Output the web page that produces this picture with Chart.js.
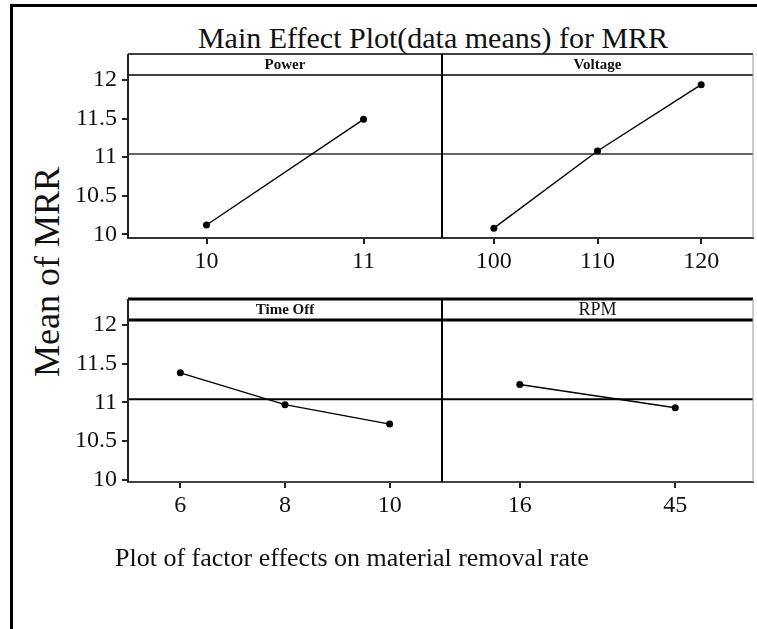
<!DOCTYPE html>
<html>
<head>
<meta charset="utf-8">
<title>Main Effect Plot for MRR</title>
<script src="https://cdn.jsdelivr.net/npm/chart.js@4/dist/chart.umd.min.js"></script>
<style>
  html, body { margin: 0; padding: 0; background: #fff; }
  #page {
    position: relative; width: 757px; height: 629px; overflow: hidden;
    font-family: 'Liberation Serif', 'Times New Roman', serif; color: #111;
  }
  #page canvas { position: absolute; left: 0; top: 0; }
  .frame {
    position: absolute; left: 10px; top: 4px; width: 760px; height: 640px;
    border-left: 3px solid #000; border-top: 3px solid #000;
  }
  .title {
    position: absolute; left: 133px; width: 600px; top: 23px;
    font-size: 30px; line-height: 30px; text-align: center; white-space: nowrap;
  }
  .ytitle {
    position: absolute; left: -103px; top: 252px; width: 300px; height: 40px;
    font-size: 36px; line-height: 40px; text-align: center; white-space: nowrap;
    transform: rotate(-90deg);
  }
  .caption {
    position: absolute; left: 115px; top: 545px;
    font-size: 26px; line-height: 26px; white-space: nowrap;
  }
</style>
</head>
<body>
<div id="page">
  <div class="frame"></div>
  <div class="title">Main Effect Plot(data means) for MRR</div>
  <div class="ytitle">Mean of MRR</div>
  <canvas id="power" width="757" height="629"></canvas>
  <canvas id="voltage" width="757" height="629"></canvas>
  <canvas id="timeOff" width="757" height="629"></canvas>
  <canvas id="rpm" width="757" height="629"></canvas>
  <div class="caption">Plot of factor effects on material removal rate</div>
</div>
<script>
// factor levels and mean MRR at each level
const powerLevels = ['10', '11'];
const powerMeans = [10.12, 11.49];

const voltageLevels = ['100', '110', '120'];
const voltageMeans = [10.08, 11.08, 11.94];

const timeOffLevels = ['6', '8', '10'];
const timeOffMeans = [11.38, 10.97, 10.72];

const rpmLevels = ['16', '45'];
const rpmMeans = [11.23, 10.93];

// overall mean drawn as the horizontal reference line
const grandMean = 11.04;
const yTicks = [10, 10.5, 11, 11.5, 12];

Chart.defaults.font.family = "'Liberation Serif', 'Times New Roman', serif";
Chart.defaults.color = '#111';

// panel box, factor name strip and reference line
const panelFrame = {
  id: 'panelFrame',
  beforeDatasetsDraw(chart, args, o) {
    const { ctx, chartArea: a, scales } = chart;
    const y = scales.y.getPixelForValue(grandMean);
    ctx.save();
    ctx.strokeStyle = o.refColor;
    ctx.lineWidth = o.refWidth;
    ctx.beginPath();
    ctx.moveTo(a.left, y);
    ctx.lineTo(a.right, y);
    ctx.stroke();
    ctx.restore();
  },
  afterDraw(chart, args, o) {
    const { ctx, chartArea: a } = chart;
    const top = a.top - o.stripHeight;
    const line = (x1, y1, x2, y2, color, width) => {
      ctx.strokeStyle = color;
      ctx.lineWidth = width;
      ctx.beginPath();
      ctx.moveTo(x1, y1);
      ctx.lineTo(x2, y2);
      ctx.stroke();
    };
    ctx.save();
    line(a.left, top, a.right, top, '#000', o.stripLine);
    line(a.left, a.top, a.right, a.top, '#000', o.stripLine);
    line(a.left, top, a.left, a.bottom, o.leftEdge.color, o.leftEdge.width);
    line(a.right, top, a.right, a.bottom, o.rightEdge.color, o.rightEdge.width);
    ctx.font = o.stripFont;
    ctx.fillStyle = '#111';
    ctx.textAlign = 'center';
    ctx.textBaseline = 'middle';
    ctx.fillText(o.label, (a.left + a.right) / 2, top + o.stripHeight / 2 + 1);
    ctx.restore();
  }
};

function mainEffectPanel(id, label, levels, means, look) {
  const yScale = {
    display: look.showY,
    min: look.yMin,
    max: look.yMax,
    afterBuildTicks: s => { s.ticks = yTicks.map(v => ({ value: v })); },
    grid: { drawOnChartArea: false, tickLength: 6, tickColor: '#222', lineWidth: 2 },
    border: { color: look.axisColor, width: 2 },
    ticks: { font: { size: 24 }, padding: 5, color: '#111', callback: v => String(v) }
  };
  if (look.showY) yScale.afterFit = s => { s.width = 60; };

  return new Chart(document.getElementById(id), {
    type: 'line',
    data: {
      labels: levels,
      datasets: [{
        data: means,
        borderColor: '#000',
        borderWidth: 1.4,
        pointRadius: 3.5,
        pointBackgroundColor: '#000',
        pointBorderWidth: 0,
        tension: 0
      }]
    },
    options: {
      responsive: false,
      animation: false,
      events: [],
      layout: { padding: look.padding },
      plugins: {
        legend: { display: false },
        tooltip: { enabled: false },
        panelFrame: {
          label: label,
          stripHeight: 21,
          stripLine: look.stripLine,
          stripFont: look.stripFont,
          refColor: look.refColor,
          refWidth: look.refWidth,
          leftEdge: look.leftEdge,
          rightEdge: look.rightEdge
        }
      },
      scales: {
        x: {
          type: 'category',
          offset: true,
          grid: { offset: false, drawOnChartArea: false, tickLength: 6, tickColor: '#222', lineWidth: 2 },
          border: { color: look.axisColor, width: 2 },
          ticks: { font: { size: 24 }, padding: 3, color: '#111', maxRotation: 0, autoSkip: false },
          afterFit: s => { s.height = 40; }
        },
        y: yScale
      }
    },
    plugins: [panelFrame]
  });
}

const upper = {
  yMin: 9.952, yMax: 12.065, stripLine: 1.5, refColor: '#333', refWidth: 1.5,
  axisColor: '#333', stripFont: 'bold 15px "Liberation Serif", serif'
};
const lower = {
  yMin: 9.974, yMax: 12.061, stripLine: 3, refColor: '#000', refWidth: 2.2,
  axisColor: '#444', stripFont: 'bold 15px "Liberation Serif", serif'
};

mainEffectPanel('power', 'Power', powerLevels, powerMeans, Object.assign({}, upper, {
  showY: true,
  padding: { left: 68, top: 75, right: 315, bottom: 351 },
  leftEdge: { color: '#222', width: 2 },
  rightEdge: { color: '#000', width: 2 }
}));

mainEffectPanel('voltage', 'Voltage', voltageLevels, voltageMeans, Object.assign({}, upper, {
  showY: false,
  padding: { left: 442, top: 75, right: 1, bottom: 351 },
  leftEdge: { color: '#000', width: 2 },
  rightEdge: { color: '#999', width: 1 }
}));

mainEffectPanel('timeOff', 'Time Off', timeOffLevels, timeOffMeans, Object.assign({}, lower, {
  showY: true,
  padding: { left: 68, top: 320, right: 315, bottom: 107 },
  leftEdge: { color: '#222', width: 2 },
  rightEdge: { color: '#000', width: 2 }
}));

mainEffectPanel('rpm', 'RPM', rpmLevels, rpmMeans, Object.assign({}, lower, {
  showY: false,
  stripFont: '18px "Liberation Serif", serif',
  padding: { left: 442, top: 320, right: 1, bottom: 107 },
  leftEdge: { color: '#000', width: 2 },
  rightEdge: { color: '#999', width: 1 }
}));
</script>
</body>
</html>
